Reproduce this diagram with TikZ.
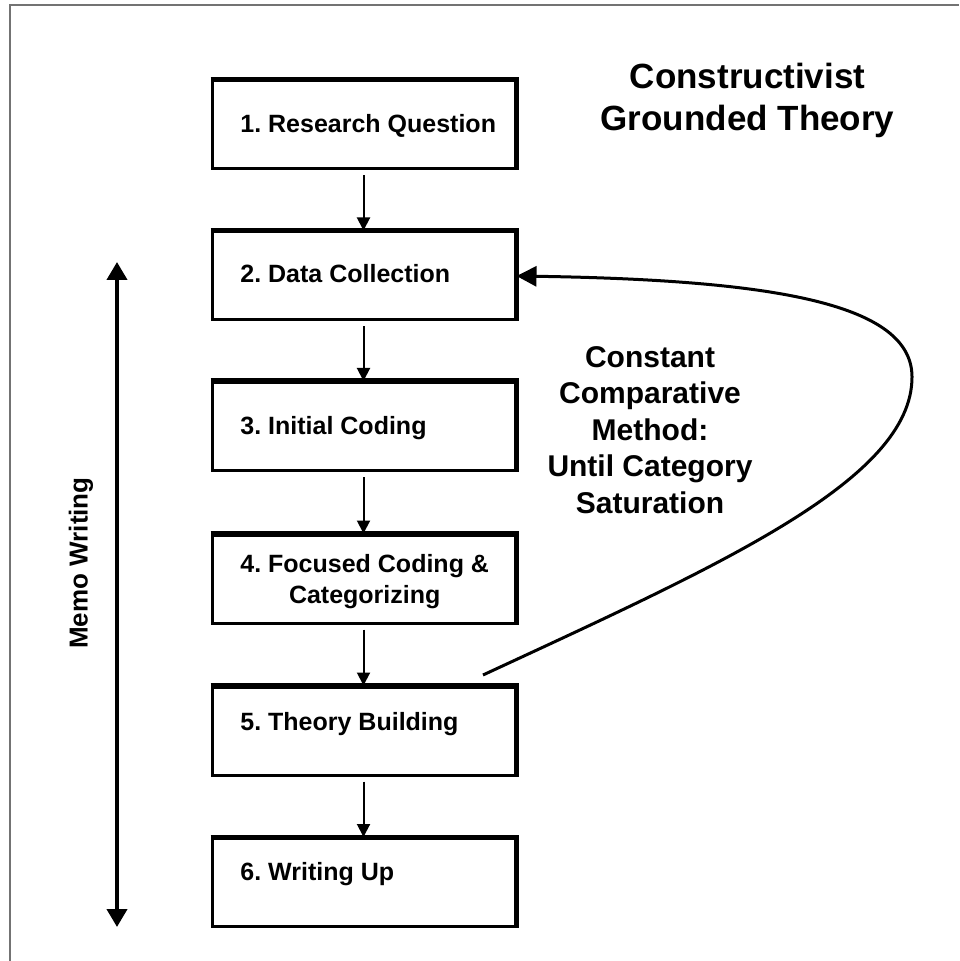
\documentclass[tikz,border=0pt]{standalone}
\usepackage{fontspec}
\setmainfont{Liberation Sans}
\frenchspacing
\usetikzlibrary{arrows.meta}
\tikzset{
  stepbox/.style={draw=black, line width=1.5pt, minimum width=151.5pt,
      minimum height=44pt, inner sep=0pt},
  stepedge/.style={draw=black, line width=2.5pt},
  steptext/.style={anchor=west, align=center, inner sep=0pt,
      font=\fontsize{12.5}{15.5}\selectfont\bfseries},
  steparrow/.style={-{Triangle[length=6.5pt,width=6.5pt]}, line width=1pt,
      shorten <=2.5pt},
  memoarrow/.style={{Triangle[length=9pt,width=10pt]}-{Triangle[length=9pt,width=10pt]},
      line width=2pt},
  loopline/.style={-{Triangle[length=10pt,width=10pt]}, line width=1.5pt},
  memolabel/.style={rotate=90, inner sep=0pt,
      font=\fontsize{13}{15.5}\selectfont\bfseries},
  looptext/.style={align=center, inner sep=0pt,
      font=\fontsize{15}{18.2}\selectfont\bfseries},
  titletext/.style={align=center, inner sep=0pt,
      font=\fontsize{17.5}{21}\selectfont\bfseries},
  frameline/.style={draw=black!55, line width=0.75pt}
}
\def\ProcStep#1#2#3#4{%
  \node[stepbox] (#1) at (363.5,#2) {};
  \draw[stepedge] (#1.north west) -- (#1.north east) -- (#1.south east);
  \node[steptext] (#1 text) at (240,#4) {#3};
}

\begin{document}
\begin{tikzpicture}[x=0.5pt, y=-0.5pt]
\useasboundingbox (0,0) rectangle (959,961);
\draw[frameline] (10,961) -- (10,5) -- (959,5);

\ProcStep{s1}{125}{1. Research Question}{126}
\ProcStep{s2}{276}{2. Data Collection}{274}
\ProcStep{s3}{426.5}{3. Initial Coding}{428}
\ProcStep{s4}{579}{4. Focused Coding \&\\Categorizing}{582}
\ProcStep{s5}{731}{5. Theory Building}{724}
\ProcStep{s6}{882.5}{6. Writing Up}{874}

\foreach \a/\b in {s1/s2,s2/s3,s3/s4,s4/s5,s5/s6}
  \draw[steparrow] (\a) -- (\b);

\node[titletext] (title) at (747.5,100) {Constructivist\\Grounded Theory};

% memo writing runs along all steps
\coordinate (memo top) at (117,262);
\coordinate (memo bottom) at (117,927);
\draw[memoarrow] (memo top) -- (memo bottom);
\node[memolabel] (memo) at (81,563) {Memo Writing};

% loop back to data collection
\node[looptext] (loop label) at (650,430)
  {Constant\\Comparative\\Method:\\Until Category\\Saturation};
\coordinate (loop start) at (483,675);
\draw[loopline] (loop start) .. controls (720,565) and (912,480) .. (912,377)
  .. controls (912,305) and (780,280) .. (s2.east);
\end{tikzpicture}
\end{document}
